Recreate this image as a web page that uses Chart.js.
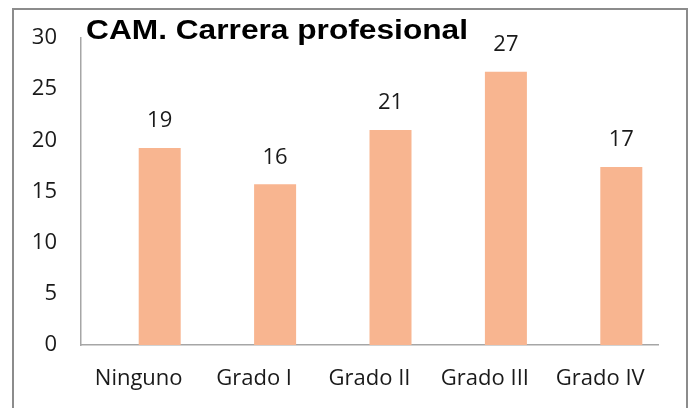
<!DOCTYPE html>
<html>
<head>
<meta charset="utf-8">
<script src="https://cdn.jsdelivr.net/npm/chart.js@4/dist/chart.umd.min.js"></script>
<style>
  html, body { margin: 0; padding: 0; background: #fff; overflow: hidden; }
  #wrap { position: relative; width: 692px; height: 408px; }
</style>
</head>
<body>
<div id="wrap"><canvas id="c" width="692" height="408"></canvas></div>
<script>
const titleText = "CAM. Carrera profesional";
const categories = ["Ninguno", "Grado I", "Grado II", "Grado III", "Grado IV"];
const values = [19.25, 15.7, 21.0, 26.7, 17.4];
const labels = [19, 16, 21, 27, 17];
const yTicks = [0, 5, 10, 15, 20, 25, 30];

const TICK_FONT = { family: "'Open Sans', 'Noto Sans', sans-serif", size: 22 };
const TEXT_COLOR = "#1a1a1a";

const framePlugin = {
  id: "frame",
  beforeDraw(chart) {
    const ctx = chart.ctx;
    ctx.save();
    ctx.fillStyle = "#fff";
    ctx.fillRect(0, 0, chart.width, chart.height);
    ctx.strokeStyle = "#8c8c8c";
    ctx.lineWidth = 2;
    ctx.strokeRect(13, 9, 674, 420);
    ctx.restore();
  },
  afterDraw(chart) {
    const ctx = chart.ctx;
    ctx.save();
    ctx.font = "bold 27px 'Liberation Sans', Arial, sans-serif";
    ctx.fillStyle = "#000";
    ctx.textBaseline = "alphabetic";
    ctx.textAlign = "left";
    const w = ctx.measureText(titleText).width;
    const sx = 382 / w;
    ctx.translate(86, 39);
    ctx.scale(sx, 1);
    ctx.fillText(titleText, 0, 0);
    ctx.restore();
  }
};

const valueLabelPlugin = {
  id: "valueLabels",
  afterDatasetsDraw(chart) {
    const ctx = chart.ctx;
    const meta = chart.getDatasetMeta(1);
    ctx.save();
    ctx.font = TICK_FONT.size + "px " + TICK_FONT.family;
    ctx.fillStyle = TEXT_COLOR;
    ctx.textAlign = "center";
    ctx.textBaseline = "middle";
    meta.data.forEach((bar, i) => {
      ctx.fillText(String(labels[i]), bar.x, bar.y - 27);
    });
    ctx.restore();
  }
};

new Chart(document.getElementById("c"), {
  type: "bar",
  data: {
    labels: categories,
    datasets: [
      { label: "", data: categories.map(() => null), backgroundColor: "rgba(0,0,0,0)" },
      { label: "Carrera", data: values, backgroundColor: "#F8B590", borderWidth: 0 }
    ]
  },
  options: {
    responsive: false,
    animation: false,
    devicePixelRatio: 1,
    layout: { padding: { top: 38, right: 34, left: 0, bottom: 0 } },
    datasets: { bar: { categoryPercentage: 0.728, barPercentage: 1.0 } },
    plugins: { legend: { display: false }, tooltip: { enabled: false }, title: { display: false } },
    scales: {
      x: {
        grid: { display: false, drawTicks: false },
        border: { display: true, color: "#a6a6a6", width: 1.5 },
        ticks: { font: TICK_FONT, color: TEXT_COLOR, padding: 21, maxRotation: 0 },
        afterFit(scale) { scale.height = 63; }
      },
      y: {
        min: 0, max: 30,
        grid: { display: false, drawTicks: false },
        border: { display: true, color: "#a6a6a6", width: 1.5 },
        afterBuildTicks(scale) { scale.ticks = yTicks.map(v => ({ value: v })); },
        ticks: { font: TICK_FONT, color: TEXT_COLOR, padding: 24 },
        afterFit(scale) { scale.width = 81; }
      }
    }
  },
  plugins: [framePlugin, valueLabelPlugin]
});
</script>
</body>
</html>
